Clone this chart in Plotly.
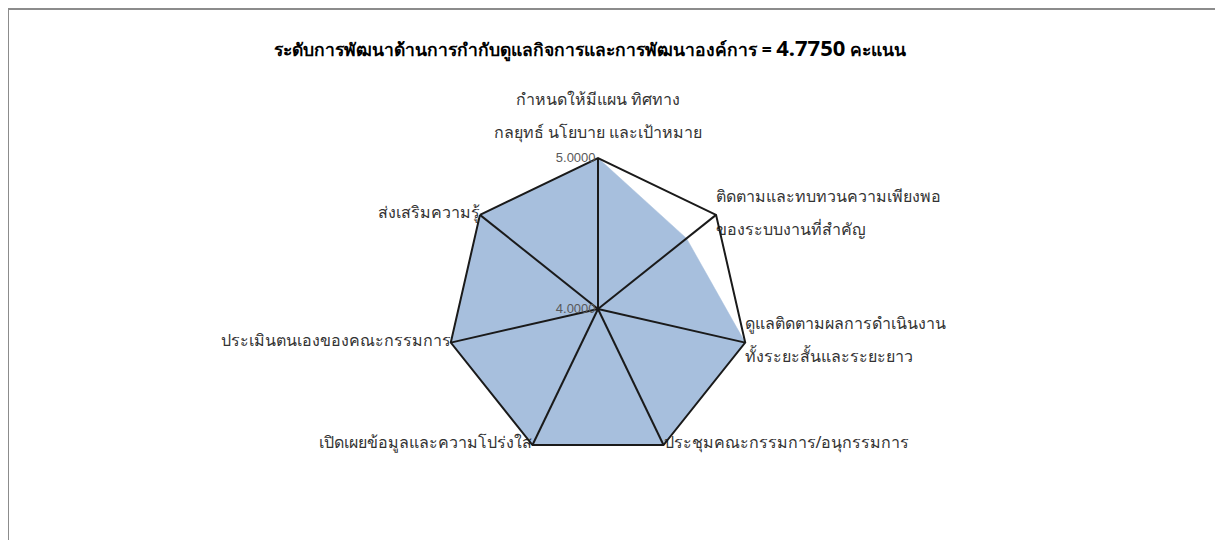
import plotly.graph_objects as go

title_text = "ระดับการพัฒนาด้านการกำกับดูแลกิจการและการพัฒนาองค์การ = <span style='font-size:22px'>4.7750</span> คะแนน"

category_lines = [
    ["กำหนดให้มีแผน ทิศทาง", "กลยุทธ์ นโยบาย และเป้าหมาย"],
    ["ติดตามและทบทวนความเพียงพอ", "ของระบบงานที่สำคัญ"],
    ["ดูแลติดตามผลการดำเนินงาน", "ทั้งระยะสั้นและระยะยาว"],
    ["ประชุมคณะกรรมการ/อนุกรรมการ"],
    ["เปิดเผยข้อมูลและความโปร่งใส"],
    ["ประเมินตนเองของคณะกรรมการ"],
    ["ส่งเสริมความรู้"],
]
scores = [5.0, 4.75, 5.0, 5.0, 5.0, 5.0, 5.0]
label_positions = ["top center", "middle right", "middle right", "middle right",
                   "middle left", "middle left", "middle left"]
radial_ticks = [4.0, 5.0]
radial_ticktext = ["4.0000", "5.0000"]

categories = [" ".join(l) for l in category_lines]

W, H = 1223, 540
# page body has an 8px margin, so figure coords = screen coords - 8
cx, cy, R = 590, 301, 151
LABEL_PX = 16


def label_html(lines, top):
    # labels use a wider line gap (blank line between lines)
    spans = [f"<span style='font-size:{LABEL_PX}px'>{t}</span>" for t in lines]
    txt = "<br><br>".join(spans)
    if top:
        txt += "<br>&nbsp;"
    return txt


label_texts = [label_html(l, p.startswith("top")) for l, p in zip(category_lines, label_positions)]

fig = go.Figure()
fig.add_trace(go.Scatterpolar(
    r=scores + [scores[0]],
    theta=categories + [categories[0]],
    mode="lines",
    fill="toself",
    fillcolor="#A7BFDD",
    line=dict(color="#A7BFDD", width=0.5),
    hoverinfo="skip",
    showlegend=False,
))

# spokes drawn over the fill
spoke_r, spoke_t = [], []
for c in categories:
    spoke_r += [radial_ticks[0], radial_ticks[-1], None]
    spoke_t += [c, c, None]
fig.add_trace(go.Scatterpolar(
    r=spoke_r, theta=spoke_t, mode="lines",
    line=dict(color="#1a1a1a", width=2),
    connectgaps=False, hoverinfo="skip", showlegend=False,
))

fig.add_trace(go.Scatterpolar(
    r=[radial_ticks[-1]] * len(categories),
    theta=categories,
    mode="text",
    text=label_texts,
    textposition=label_positions,
    textfont=dict(size=12.7, color="#333333"),
    cliponaxis=False,
    hoverinfo="skip",
    showlegend=False,
))

fig.update_layout(
    width=W, height=H,
    margin=dict(l=0, r=0, t=0, b=0),
    paper_bgcolor="white",
    font=dict(family="Tahoma, 'Noto Sans', sans-serif", color="#333333"),
    title=dict(text=title_text, x=582 / W, xanchor="center", y=1 - 42 / H, yanchor="middle",
               font=dict(size=17.5, color="#000000", weight="bold")),
    polar=dict(
        domain=dict(x=[(cx - R) / W, (cx + R) / W], y=[1 - (cy + R) / H, 1 - (cy - R) / H]),
        bgcolor="rgba(0,0,0,0)",
        gridshape="linear",
        angularaxis=dict(
            rotation=90, direction="clockwise",
            showticklabels=False, ticks="",
            showline=True, linecolor="#1a1a1a", linewidth=2,
            showgrid=False,
            layer="above traces",
        ),
        radialaxis=dict(
            range=[radial_ticks[0], radial_ticks[-1]],
            angle=90, side="counterclockwise", tickangle=90,
            tickvals=radial_ticks, ticktext=radial_ticktext,
            tickfont=dict(size=13, color="#595959", family="Arial, 'Liberation Sans', sans-serif"),
            ticks="",
            showgrid=False,
            showline=False,
            layer="above traces",
        ),
    ),
    shapes=[
        dict(type="line", xref="paper", yref="paper", x0=0, x1=1.0, y0=1 - 1 / H, y1=1 - 1 / H,
             line=dict(color="#8c8c8c", width=2)),
        dict(type="line", xref="paper", yref="paper", x0=0, x1=0, y0=0, y1=1,
             line=dict(color="#8c8c8c", width=2)),
    ],
)

fig.write_html("out.html")
